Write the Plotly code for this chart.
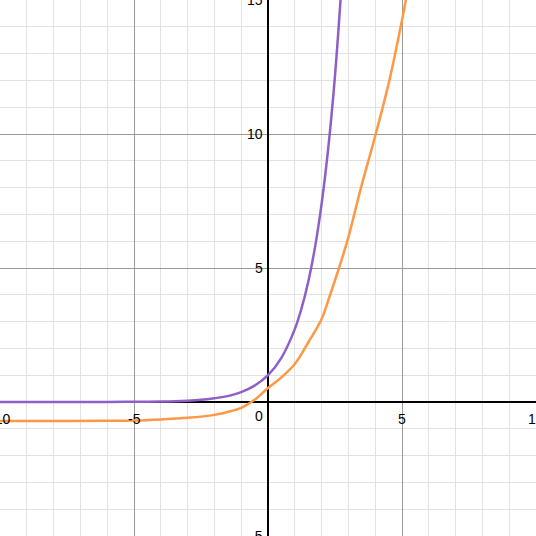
import plotly.graph_objects as go

# curves (Desmos-style graph)
purple_x = [-10, -8, -6, -5, -4, -3, -2.5, -2, -1.5, -1, -0.5, 0, 0.5, 1, 1.25, 1.5, 1.75, 2, 2.25, 2.5, 2.72]
purple_y = [0.0, 0.0, 0.0, 0.01, 0.02, 0.05, 0.08, 0.14, 0.22, 0.37, 0.61, 1.0, 1.65, 2.72, 3.49, 4.48, 5.75, 7.39, 9.49, 12.18, 15.2]

orange_x = [-10, -8, -6, -5, -4, -3, -2, -1.5, -1, -0.5, 0, 0.5, 1, 1.5, 2, 2.3, 2.65, 3.0, 3.47, 4.02, 4.53, 5.0, 5.18]
orange_y = [-0.71, -0.71, -0.70, -0.69, -0.65, -0.59, -0.48, -0.37, -0.22, 0.08, 0.52, 0.92, 1.42, 2.22, 3.1, 3.95, 5.0, 6.15, 8.0, 10.0, 12.0, 14.25, 15.2]

x_ticks = [-10, -5, 5, 10]
x_labels = ["-10", "-5", "5", "10"]
y_ticks = [-5, 5, 10, 15]
y_labels = ["-5", "5", "10", "15"]

PURPLE = "#8f5fc8"
ORANGE = "#fd9845"
FONT = dict(family="Liberation Sans, Arial, sans-serif", size=14, color="black")

fig = go.Figure()
fig.add_trace(go.Scatter(x=purple_x, y=purple_y, mode="lines",
                         line=dict(color=PURPLE, width=2.5, shape="spline"),
                         hoverinfo="skip"))
fig.add_trace(go.Scatter(x=orange_x, y=orange_y, mode="lines",
                         line=dict(color=ORANGE, width=2.5, shape="spline"),
                         hoverinfo="skip"))

axis_common = dict(
    dtick=5, showgrid=True, gridcolor="#9a9a9a", gridwidth=1,
    minor=dict(dtick=1, showgrid=True, gridcolor="#e2e2e2", gridwidth=1),
    zeroline=True, zerolinecolor="black", zerolinewidth=1.6,
    showticklabels=False, ticks="", showline=False, fixedrange=True,
)

annotations = []
for v, t in zip(x_ticks, x_labels):
    annotations.append(dict(x=v, y=0, text=t, showarrow=False, xanchor="center",
                            yanchor="top", yshift=-7, font=FONT))
for v, t in zip(y_ticks, y_labels):
    annotations.append(dict(x=0, y=v, text=t, showarrow=False, xanchor="right",
                            yanchor="middle", xshift=-3, font=FONT))
annotations.append(dict(x=0, y=0, text="0", showarrow=False, xanchor="right",
                        yanchor="top", xshift=-3, yshift=-4, font=FONT))

fig.update_layout(
    width=536, height=536,
    margin=dict(l=0, r=0, t=0, b=0, autoexpand=False),
    plot_bgcolor="white", paper_bgcolor="white",
    showlegend=False,
    xaxis=dict(range=[-10, 10], **axis_common),
    yaxis=dict(range=[-5, 15], **axis_common),
    annotations=annotations,
)

# drop the browser's default 8px body margin so the graph fills the window
fig.write_html("out.html", config={"displayModeBar": False},
               post_script="document.body.style.margin = '0';")
